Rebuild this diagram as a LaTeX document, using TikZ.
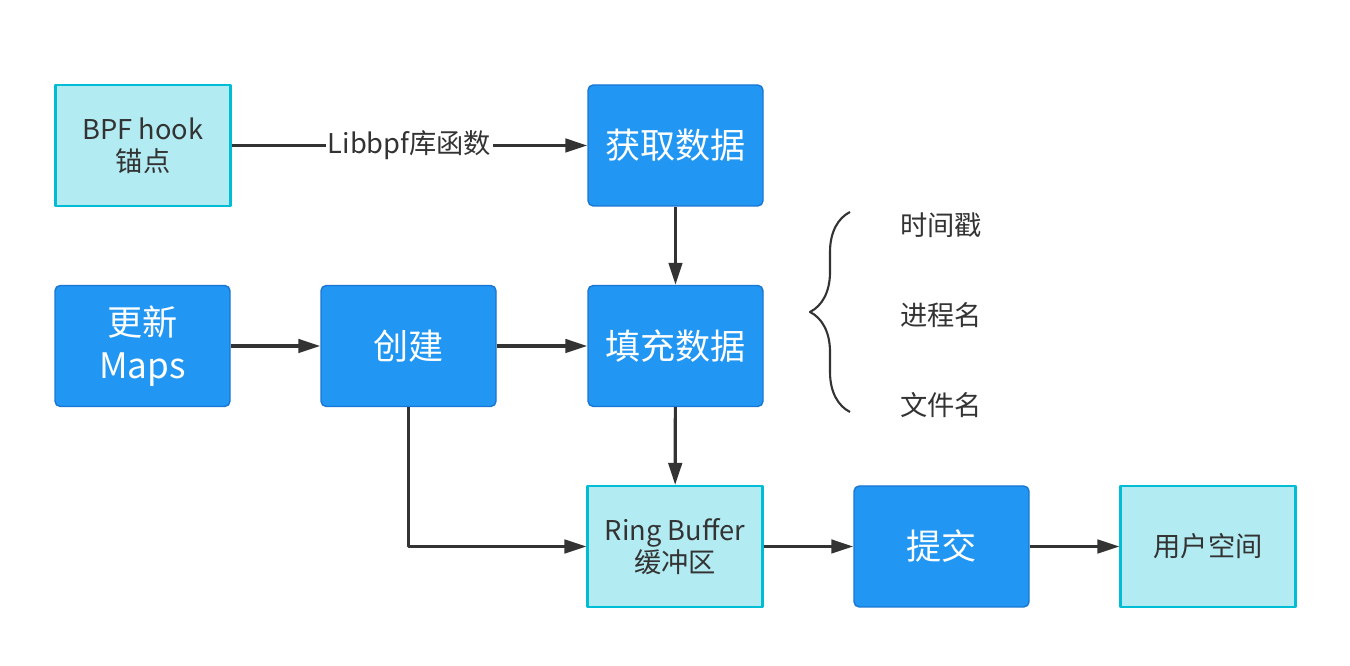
\documentclass[tikz,border=0pt]{standalone}
\usepackage{fontspec}
\setmainfont{Noto Sans CJK SC}
\usetikzlibrary{arrows.meta, decorations.pathreplacing}

\definecolor{boxblue}{RGB}{33,150,243}
\definecolor{boxblueline}{RGB}{25,118,210}
\definecolor{boxcyan}{RGB}{178,235,242}
\definecolor{boxcyanline}{RGB}{0,188,212}
\definecolor{inkgray}{RGB}{51,51,51}

\begin{document}
\begin{tikzpicture}[>={Triangle[length=4.4mm,width=2.7mm]}, line join=round,
	stage/.style={draw=boxblueline, fill=boxblue, line width=0.8pt, rounded corners=3pt,
		minimum width=3.5cm, minimum height=2.42cm, text=white, align=center,
		font=\fontsize{20}{24.5}\selectfont},
	store/.style={draw=boxcyanline, fill=boxcyan, line width=1.2pt,
		minimum width=3.5cm, minimum height=2.42cm, text=inkgray, align=center,
		font=\fontsize{15.5}{18}\selectfont},
	flow/.style={->, draw=inkgray, line width=1.8pt},
	field/.style={anchor=west, text=inkgray, font=\fontsize{15.5}{18}\selectfont}]
\useasboundingbox (0,0) rectangle (27,13.32);
%========================
% Top row
%========================
\node[store] (hook) at (2.86,10.41) {BPF hook\\锚点};
\node[stage] (fetch) at (13.51,10.41) {获取数据};
\draw[flow] (hook) -- (fetch) node[midway, fill=white, inner sep=1pt, text=inkgray,
	font=\fontsize{15.5}{18}\selectfont] {Libbpf库函数};

%========================
% Middle row
%========================
\node[stage] (maps) at (2.85,6.4) {更新\\Maps};
\node[stage] (create) at (8.17,6.4) {创建};
\node[stage] (fill) at (13.51,6.4) {填充数据};
\draw[flow] (fetch) -- (fill);
\draw[flow] (maps) -- (create);
\draw[flow] (create) -- (fill);

% brace with the filled fields
\draw[inkgray, line width=1.2pt, decorate, decoration={brace, amplitude=0.8cm}]
	(17.0,5.08) -- (17.0,9.08);
\node[field] (stamp) at (17.88,8.82) {时间戳};
\node[field] (proc) at (17.88,7.02) {进程名};
\node[field] (file) at (17.88,5.22) {文件名};

%========================
% Bottom row
%========================
\node[store] (ring) at (13.5,2.39) {Ring Buffer\\缓冲区};
\node[stage] (submit) at (18.83,2.39) {提交};
\node[store] (user) at (24.16,2.39) {用户空间};
\draw[flow] (fill) -- (ring);
\draw[flow] (create) |- (ring);
\draw[flow] (ring) -- (submit);
\draw[flow] (submit) -- (user);
\end{tikzpicture}
\end{document}
